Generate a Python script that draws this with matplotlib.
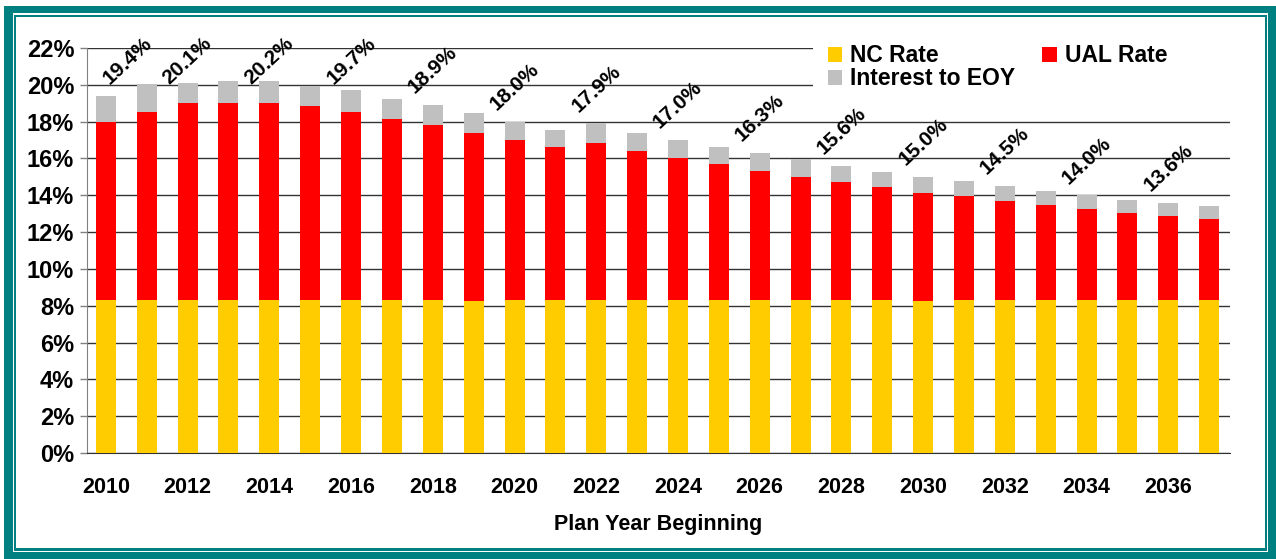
import matplotlib
matplotlib.use('Agg')
import matplotlib.pyplot as plt
from matplotlib.patches import Rectangle
import numpy as np

plt.rcParams['font.family'] = ['Liberation Sans', 'DejaVu Sans']
plt.rcParams['font.weight'] = 'bold'

years = list(range(2010, 2038))
nc_rate = [8.3, 8.3, 8.3, 8.3, 8.3, 8.3, 8.3, 8.3, 8.3, 8.25, 8.3, 8.3, 8.3, 8.3,
           8.3, 8.3, 8.3, 8.3, 8.3, 8.3, 8.25, 8.3, 8.3, 8.3, 8.3, 8.3, 8.3, 8.3]
ual_rate = [9.7, 10.2, 10.7, 10.7, 10.7, 10.55, 10.25, 9.85, 9.5, 9.15, 8.7, 8.3, 8.55, 8.1,
            7.7, 7.4, 7.0, 6.7, 6.4, 6.15, 5.9, 5.65, 5.4, 5.15, 4.95, 4.75, 4.6, 4.4]
interest_eoy = [1.4, 1.55, 1.1, 1.2, 1.2, 1.1, 1.15, 1.1, 1.1, 1.05, 1.0, 0.95, 1.05, 1.0,
                1.0, 0.9, 1.0, 0.95, 0.9, 0.8, 0.85, 0.8, 0.8, 0.8, 0.75, 0.7, 0.7, 0.7]

W, H = 1276, 559
fig = plt.figure(figsize=(W / 100, H / 100), dpi=100)
fig.patch.set_facecolor('white')


def px_rect(x0, y0, x1, y1, color):
    # pixel box (top-left origin) -> figure fraction rectangle
    r = Rectangle((x0 / W, (H - y1) / H), (x1 - x0) / W, (y1 - y0) / H,
                  transform=fig.transFigure, facecolor=color, edgecolor='none', zorder=-10)
    fig.add_artist(r)


# double teal frame
px_rect(4, 6, 1276, 559, '#008080')
px_rect(13, 13, 1268, 552, 'white')
px_rect(14, 15, 1267, 551, '#008080')
px_rect(16, 17, 1265, 548, 'white')

ax = fig.add_axes([86.7 / W, (H - 453) / H, (1230 - 86.7) / W, (453 - 48) / H])
ax.set_facecolor('white')

x = np.arange(len(years))
nc = np.array(nc_rate)
ual = np.array(ual_rate)
inte = np.array(interest_eoy)
total = nc + ual + inte

b1 = ax.bar(x, nc, width=0.49, color='#FFCC00', zorder=3)
b2 = ax.bar(x, ual, width=0.49, bottom=nc, color='#FF0000', zorder=3)
b3 = ax.bar(x, inte, width=0.49, bottom=nc + ual, color='#C0C0C0', zorder=3)

ax.set_ylim(0, 22)
ax.set_yticks(np.arange(0, 23, 2))
ax.yaxis.set_major_formatter(lambda v, p: f'{v:.0f}%')
ax.set_xlim(-0.47, 27.51)
ax.set_xticks(x[::2])
ax.set_xticklabels([str(y) for y in years[::2]])
ax.tick_params(axis='x', length=0, pad=17, labelsize=15.5)
ax.tick_params(axis='y', length=5, width=1, color='#808080', pad=4, labelsize=17)
ax.grid(axis='y', color='#333333', lw=1)
ax.set_axisbelow(True)
for s in ['top', 'right']:
    ax.spines[s].set_visible(False)
ax.spines['left'].set_color('#808080')
ax.spines['bottom'].set_color('#333333')

ax.set_xlabel('Plan Year Beginning', fontsize=15.5, fontweight='bold', labelpad=12)

for i in range(0, len(years), 2):
    lx = max(i, 0.54)
    ly = min(total[i] + 1.9, 21.3)
    ax.text(lx, ly, f'{total[i]:.1f}%', rotation=43, rotation_mode='anchor',
            ha='center', va='center', fontsize=15, zorder=4)

# white area behind the legend hides the top gridlines
ax.add_patch(Rectangle((0.635, (453 - 93) / 405), 0.366, 0.13, transform=ax.transAxes,
                       facecolor='white', edgecolor='none', zorder=1, clip_on=False))

leg = ax.legend([b1, b3, b2], ['NC Rate', 'Interest to EOY', 'UAL Rate'], ncol=2,
                loc='upper left', bbox_to_anchor=(0.644, 1.02), frameon=False,
                fontsize=16.5, handlelength=0.62, handleheight=0.62, handletextpad=0.35,
                labelspacing=0.0, columnspacing=1.2, borderpad=0.2, borderaxespad=0)

fig.savefig('out.png', dpi=100)
